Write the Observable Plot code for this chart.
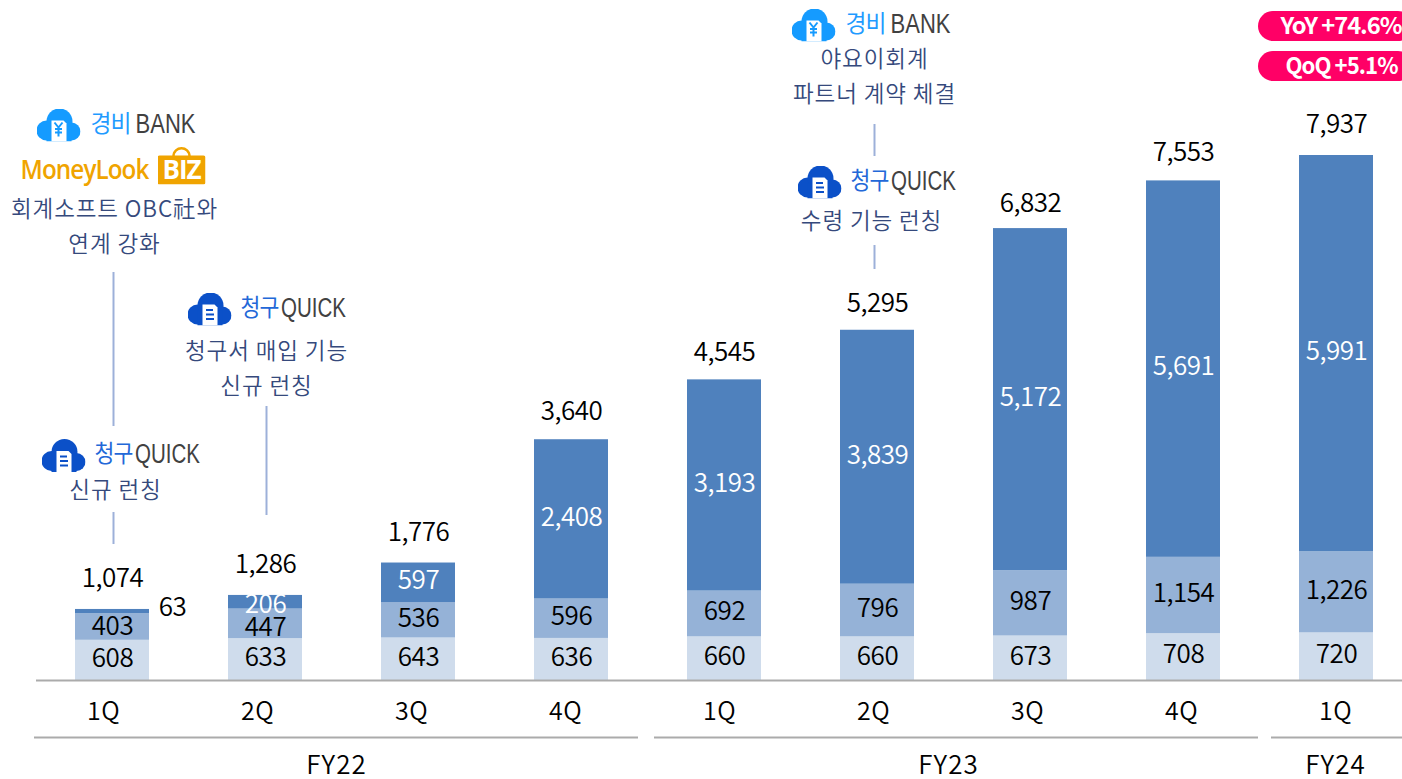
<!DOCTYPE html>
<html><head><meta charset="utf-8">
<script src="https://cdn.jsdelivr.net/npm/d3@7"></script>
<script src="https://cdn.jsdelivr.net/npm/@observablehq/plot@0.6"></script>
<style>
html,body{margin:0;padding:0;background:#fff;overflow:hidden}
svg{display:block}
.logoLatin text{font-family:"Liberation Sans",sans-serif;letter-spacing:0}
.noteText text{letter-spacing:.9px;font-weight:350}
.axisText text{letter-spacing:.5px;font-weight:350}
.groupText text{letter-spacing:1px;font-weight:350}
.num text{font-weight:350;letter-spacing:-.5px}
</style></head><body>
<div id="chart"></div>
<script>
const quarters = ["FY22 1Q","FY22 2Q","FY22 3Q","FY22 4Q","FY23 1Q","FY23 2Q","FY23 3Q","FY23 4Q","FY24 1Q"];
const seriesA = [608,633,643,636,660,660,673,708,720];
const seriesB = [403,447,536,596,692,796,987,1154,1226];
const seriesC = [63,206,597,2408,3193,3839,5172,5691,5991];
const totals  = [1074,1286,1776,3640,4545,5295,6832,7553,7937];
const colors  = ["#CFDCEC","#95B2D7","#4F81BD"];
const ink = "#35497C", ruleInk = "#9DB0D9", bankBlue = "#1F9BFF", quickBlue = "#2368D8", logoInk = "#414141", orange = "#F0A400", pink = "#FF0066";

const rows = quarters.flatMap((q,i)=>[
  {q, s:0, v:seriesA[i]},
  {q, s:1, v:seriesB[i]},
  {q, s:2, v:seriesC[i]}
]);

const H0 = 680, K = 525/7937;
const at = py => (H0 - py)/K;
const fmt = d3.format(",");
const totalNudge = [0,0,1,3,4,4,6,3,0];

const cloud = (fill, inner) => "data:image/svg+xml," + encodeURIComponent(
`<svg xmlns="http://www.w3.org/2000/svg" viewBox="0 0 44 33"><g fill="${fill}"><circle cx="10" cy="22" r="10"/><circle cx="23" cy="13" r="13"/><circle cx="35" cy="23" r="9"/><rect x="10" y="18" width="25" height="15"/></g>
<path d="M15 33V12h12l3 3v18z" fill="#fff"/>${inner}</svg>`);
const cloudBank = cloud("#159BFF", `<path d="M18 14l4 5 4-5M22 19v9M18.5 20.5h7M18.5 24h7" fill="none" stroke="#159BFF" stroke-width="2"/>`);
const cloudQuick = cloud("#0B50C8", `<path d="M18.5 17.5h7M18.5 22h8M18.5 26.500h8" fill="none" stroke="#0B50C8" stroke-width="2"/>`);
const bizBag = "data:image/svg+xml," + encodeURIComponent(
`<svg xmlns="http://www.w3.org/2000/svg" viewBox="0 0 48 38"><rect x="0" y="9" width="48" height="29" rx="2" fill="${orange}"/><path d="M16 10c0-11 16-11 16 0" fill="none" stroke="${orange}" stroke-width="2.500"/></svg>`);

const K1 = quarters[0], K2 = quarters[1], K6 = quarters[5], K9 = quarters[8];
const note = (text, key, py, dx, opts={}) => Plot.text([text], {x:()=>key, y:()=>at(py), text:d=>d, dx, fontSize:22.500, fill:ink, className:"noteText", ...opts});
const icon = (src, key, py, dx) => Plot.image([0], {x:()=>key, y:()=>at(py), src, width:44, height:33, dx});
const bank = (key, py, dx) => [
  icon(cloudBank, key, py, dx),
  note("경비", key, py-1, dx+52, {fill:bankBlue, fontSize:24, className:"fit40"}),
  note("BANK", key, py-1, dx+107, {fill:logoInk, fontSize:27, className:"logoLatin fit60"})
];
const quick = (key, py, dx) => [
  icon(cloudQuick, key, py, dx),
  note("청구", key, py-1, dx+50, {fill:quickBlue, fontSize:24, className:"fit38"}),
  note("QUICK", key, py-1, dx+104, {fill:logoInk, fontSize:27, className:"logoLatin fit65"})
];
const stem = (key, py1, py2, dx) => Plot.ruleX([0], {x:()=>key, y1:()=>at(py1), y2:()=>at(py2), stroke:ruleInk, strokeWidth:2, dx});
const span = (k1, k2, l, r) => Plot.ruleY([at(737)], {x1:()=>k1, x2:()=>k2, insetLeft:l, insetRight:r, stroke:"#ABABAB", strokeWidth:2});
const pill = (py1, py2) => Plot.rectY([0], {x:()=>K9, y1:()=>at(py1), y2:()=>at(py2), fill:pink, rx:15, insetLeft:-41, insetRight:-40});

const numStyle = {fontSize:26, className:"num"};
const segA = (d,i)=>seriesA[i]/2;
const segB = (d,i)=>seriesA[i]+seriesB[i]/2;
const segC = (d,i)=>seriesA[i]+seriesB[i]+seriesC[i]/2;
const plot = Plot.plot({
  width:1402, height:779,
  marginLeft:36, marginRight:0, marginTop:0, marginBottom:99,
  x:{type:"band", domain:quarters, range:[35.5,1412.5], paddingInner:0.516, paddingOuter:0.258, axis:null},
  y:{domain:[0,7937], range:[H0,155], axis:null},
  style:{fontFamily:'"Noto Sans CJK KR","Noto Sans",sans-serif', letterSpacing:"-1px", background:"#fff", overflow:"visible"},
  marks:[
    Plot.barY(rows, {x:"q", y:"v", z:"s", fill:d=>colors[d.s], order:null}),
    Plot.ruleY([0], {stroke:"#ABABAB", strokeWidth:2}),
    Plot.text(quarters, {x:d=>d, y:segA, text:(d,i)=>seriesA[i], fill:"#000", dx:0, dy:-2, ...numStyle}),
    ...quarters.map((q,i)=>Plot.text([q], {x:d=>d, y:()=>segB(q,i), text:()=>fmt(seriesB[i]), fill:"#000", dx:0, dy:i===0?0:i===1?4:-2, ...numStyle})),
    ...quarters.map((q,i)=>Plot.text([q], {x:d=>d, y:()=>segC(q,i), text:()=>fmt(seriesC[i]), fill:i===0?"#000":"#fff", dx:i===0?60:0, dy:i===0?-4:i===1?2:-2, ...numStyle})),
    ...quarters.map((q,i)=>Plot.text([q], {x:d=>d, y:()=>totals[i], text:()=>fmt(totals[i]), dy:-31+totalNudge[i], dx:0, fill:"#000", ...numStyle})),
    ...quarters.map((q,i)=>Plot.text([q], {x:d=>d, y:0, dy:31, dx:-9+i, text:d=>d.split(" ")[1], fontSize:25, fill:"#000", className:"axisText"})),
    span(K1, quarters[3], -41, -30),
    span(quarters[4], quarters[7], -33, -38),
    span(K9, K9, -28, -40),
    Plot.text(["FY22"], {x:()=>K2, y:0, dy:85, dx:71, text:d=>d, fontSize:26, fill:"#000", className:"groupText"}),
    Plot.text(["FY23"], {x:()=>K6, y:0, dy:85, dx:71, text:d=>d, fontSize:26, fill:"#000", className:"groupText"}),
    Plot.text(["FY24"], {x:()=>K9, y:0, dy:85, dx:-1, text:d=>d, fontSize:26, fill:"#000", className:"groupText"}),

    // 1Q FY22 notes
    ...bank(K1, 124.5, -54),
    Plot.text(["MoneyLook"], {x:()=>K1, y:()=>at(170), dx:-28, text:d=>d, fontSize:27, fontWeight:600, fill:orange, fontFamily:'"Open Sans",sans-serif', className:"fit128"}),
    Plot.image([0], {x:()=>K1, y:()=>at(165), src:bizBag, width:48, height:38, dx:69}),
    Plot.text(["BIZ"], {x:()=>K1, y:()=>at(170), dx:69, text:d=>d, fontSize:26, fontWeight:700, fill:"#fff", fontFamily:'"Open Sans",sans-serif'}),
    note("회계소프트 OBC社와", K1, 209, 2),
    note("연계 강화", K1, 244, 2),
    stem(K1, 272, 426, 1),
    ...quick(K1, 455, -49),
    note("신규 런칭", K1, 490, 3),
    stem(K1, 512, 544, 1),

    // 2Q FY22
    ...quick(K2, 308.5, -56),
    note("청구서 매입 기능", K2, 351, 1),
    note("신규 런칭", K2, 386, 1),
    stem(K2, 406, 515, 1),

    // 2Q FY23
    ...bank(K6, 24.5, -64),
    note("야요이회계", K6, 59, -3),
    note("파트너 계약 체결", K6, 94, -3),
    stem(K6, 124, 156, -3),
    ...quick(K6, 181.5, -58),
    note("수령 기능 런칭", K6, 221, -6),
    stem(K6, 245, 269, -3),

    // pills
    pill(11, 41),
    pill(51, 81),
    Plot.text(["YoY +74.6%"], {x:()=>K9, y:()=>at(26), dx:4.500, text:d=>d, fontSize:23, fontWeight:700, fill:"#fff", className:"fit121"}),
    Plot.text(["QoQ +5.1%"], {x:()=>K9, y:()=>at(66), dx:5, text:d=>d, fontSize:23, fontWeight:700, fill:"#fff", className:"fit112"})
  ]
});
for (const w of [38,40,60,65,112,121,128]) {
  plot.querySelectorAll(`.fit${w} text, text.fit${w}`).forEach(t=>{
    t.setAttribute("textLength", w);
    t.setAttribute("lengthAdjust", "spacingAndGlyphs");
  });
}
document.getElementById("chart").append(plot);
</script></body></html>
